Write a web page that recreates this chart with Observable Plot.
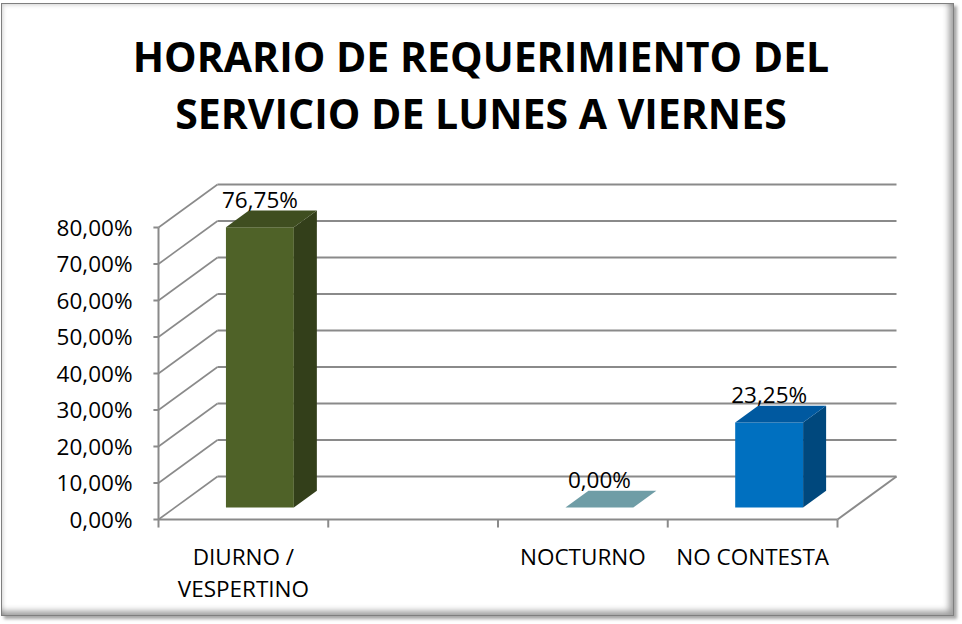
<!DOCTYPE html>
<html>
<head>
<meta charset="utf-8">
<script src="https://cdn.jsdelivr.net/npm/d3@7"></script>
<script src="https://cdn.jsdelivr.net/npm/@observablehq/plot@0.6"></script>
<style>
  html, body { margin: 0; padding: 0; background: #ffffff; }
  #wrap { position: relative; width: 962px; height: 624px; overflow: hidden; background: #fff; }
  #frame {
    position: absolute; left: 1px; top: 3px; width: 951px; height: 611px;
    border: 1px solid #7f7f7f; background: #fff;
    box-shadow: inset -7px -7px 6px -3px rgba(0,0,0,0.38), inset 4px 4px 4px -3px rgba(0,0,0,0.18), 3px 3px 3px rgba(0,0,0,0.35);
  }
  #title {
    position: absolute; left: 0; top: 28px; width: 962px; text-align: center;
    font-family: "Open Sans", sans-serif; font-weight: 700; font-size: 41px; line-height: 57px; color: #000;
  }
  #chart { position: absolute; left: 0; top: 0; }
</style>
</head>
<body>
<div id="wrap">
  <div id="frame"></div>
  <div id="chart"></div>
  <div id="title">HORARIO DE REQUERIMIENTO DEL<br>SERVICIO DE LUNES A VIERNES</div>
</div>
<script>
// ---- data ----
const categories = ["DIURNO /\nVESPERTINO", "", "NOCTURNO", "NO CONTESTA"];
const values = [76.75, null, 0.00, 23.25];
const yTickValues = [0, 10, 20, 30, 40, 50, 60, 70, 80];
const yTickLabels = ["0,00%", "10,00%", "20,00%", "30,00%", "40,00%", "50,00%", "60,00%", "70,00%", "80,00%"];
const valueLabels = ["76,75%", "", "0,00%", "23,25%"];

// ---- styles ----
const palette = {
  "DIURNO /\nVESPERTINO": {front: "#4F6228", side: "#333F1A", top: "#3F4E20"},
  "NOCTURNO": {front: "#5E8C95", side: "#4F7A82", top: "#6F9DA6"},
  "NO CONTESTA": {front: "#0070C0", side: "#00487D", top: "#0059A0"}
};
const GRID = "#8a8a8a";
const FS = 22.5;

// ---- 3D geometry (in data units) ----
const DX = 0.3476;   // x shift for full depth (category units)
const DY = 11.78;    // y shift for full depth (percent units)
const TF = 0.28, TB = 0.67; // bar front / back depth
const BAR = 0.40;    // bar width in category units
const P = (x, y, t) => ({x: x + t * DX, y: y + t * DY});

const faces = [];
values.forEach((v, i) => {
  if (v == null) return;
  const c = palette[categories[i]];
  const l = i + 0.5 - BAR / 2, r = l + BAR;
  const add = (name, pts, color) => pts.forEach(p => faces.push({id: i + name, color, ...p}));
  add("front", [P(l,0,TF), P(r,0,TF), P(r,v,TF), P(l,v,TF)], c.front);
  add("side", [P(r,0,TF), P(r,0,TB), P(r,v,TB), P(r,v,TF)], c.side);
  add("top", [P(l,v,TF), P(r,v,TF), P(r,v,TB), P(l,v,TB)], c.top);
});

const nSlots = categories.length;
const backLines = yTickValues.map(v => ({x1: DX, y1: v + DY, x2: nSlots + DX, y2: v + DY}));
const sideLines = yTickValues.map(v => ({x1: 0, y1: v, x2: DX, y2: v + DY}));
const frameLines = [
  {x1: 0, y1: 0, x2: 0, y2: d3.max(yTickValues)},
  {x1: 0, y1: 0, x2: nSlots, y2: 0},
  {x1: nSlots, y1: 0, x2: nSlots + DX, y2: DY}
];
const xTickPos = d3.range(nSlots + 1);
const labelData = values.map((v, i) => ({v, i, text: valueLabels[i]})).filter(d => d.v != null);

const plot = Plot.plot({
  width: 962, height: 624,
  marginTop: 0, marginBottom: 0, marginLeft: 0, marginRight: 0,
  x: {type: "linear", domain: [0, nSlots], range: [158, 837], axis: null},
  y: {type: "linear", domain: [0, 80], range: [519, 227], axis: null},
  color: {type: "identity"},
  style: {background: "transparent", fontFamily: "Open Sans, sans-serif"},
  marks: [
    Plot.link(backLines, {x1: "x1", y1: "y1", x2: "x2", y2: "y2", stroke: GRID, strokeWidth: 2}),
    Plot.link(sideLines, {x1: "x1", y1: "y1", x2: "x2", y2: "y2", stroke: GRID, strokeWidth: 1.6}),
    Plot.link(frameLines, {x1: "x1", y1: "y1", x2: "x2", y2: "y2", stroke: GRID, strokeWidth: 2}),
    Plot.link(yTickValues, {x1: -0.03, x2: 0, y1: d => d, y2: d => d, stroke: GRID, strokeWidth: 2}),
    Plot.link(xTickPos, {x1: d => d, x2: d => d, y1: 0, y2: -2.2, stroke: GRID, strokeWidth: 2}),
    Plot.line(faces, {x: "x", y: "y", z: "id", fill: "color", stroke: "none", curve: "linear-closed"}),
    Plot.text(yTickValues, {x: 0, y: d => d, text: (d, i) => yTickLabels[i], textAnchor: "end", dx: -26, dy: 1, fontSize: FS, fill: "#000"}),
    Plot.text(categories, {x: (d, i) => i + 0.5, y: 0, text: d => d, lineAnchor: "top", dy: 22, lineHeight: 1.45, fontSize: FS, fill: "#000"}),
    Plot.text(labelData, {x: d => d.i + 0.5 + TF * DX, y: d => d.v + TB * DY, text: "text", dy: -10, fontSize: FS, fill: "#000"})
  ]
});
document.getElementById("chart").appendChild(plot);
</script>
</body>
</html>
